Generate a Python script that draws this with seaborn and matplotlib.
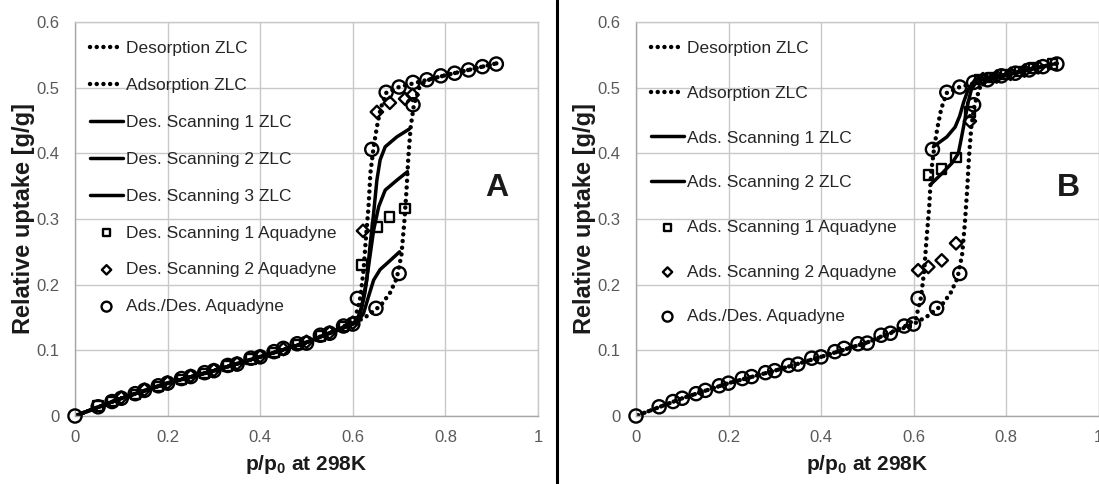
import numpy as np
import pandas as pd
import matplotlib
matplotlib.use("Agg")
import matplotlib.pyplot as plt
import seaborn as sns
from matplotlib.lines import Line2D
from matplotlib.ticker import FuncFormatter, MultipleLocator

sns.set_style("white")
plt.rcParams['font.family'] = ['Liberation Sans', 'DejaVu Sans']

# ---------------- data ----------------
# shared lower branch (p/p0, uptake)
low_x = [0, 0.05, 0.08, 0.10, 0.13, 0.15, 0.18, 0.20, 0.23, 0.25, 0.28, 0.30,
         0.33, 0.35, 0.38, 0.40, 0.43, 0.45, 0.48, 0.50, 0.53, 0.55, 0.58, 0.60]
low_y = [0, 0.014, 0.022, 0.027, 0.034, 0.039, 0.046, 0.050, 0.057, 0.060, 0.066, 0.069,
         0.077, 0.079, 0.088, 0.090, 0.098, 0.103, 0.110, 0.111, 0.123, 0.126, 0.137, 0.140]

# Ads./Des. Aquadyne circles (upper part)
aq_x = [0.61, 0.65, 0.70, 0.73, 0.76, 0.79, 0.82, 0.85, 0.88, 0.91, 0.73, 0.70, 0.672, 0.641]
aq_y = [0.179, 0.164, 0.217, 0.474, 0.512, 0.518, 0.522, 0.527, 0.532, 0.536, 0.508, 0.501, 0.493, 0.406]

# ZLC isotherm branches
ads_zlc_x = [0, 0.1, 0.2, 0.3, 0.4, 0.5, 0.6, 0.63, 0.66, 0.68, 0.695, 0.705, 0.711, 0.716,
             0.72, 0.725, 0.732, 0.745, 0.76, 0.80, 0.85, 0.91]
ads_zlc_y = [0, 0.027, 0.050, 0.069, 0.090, 0.112, 0.140, 0.152, 0.168, 0.187, 0.21, 0.245, 0.293,
             0.344, 0.395, 0.44, 0.474, 0.503, 0.511, 0.519, 0.527, 0.537]
des_zlc_x = [0.91, 0.85, 0.80, 0.75, 0.70, 0.672, 0.66, 0.652, 0.645, 0.638, 0.634, 0.628,
             0.623, 0.616, 0.605, 0.58, 0.5, 0.4, 0.3, 0.2, 0.1, 0]
des_zlc_y = [0.537, 0.527, 0.519, 0.510, 0.501, 0.492, 0.468, 0.44, 0.41, 0.37, 0.319, 0.268,
             0.22, 0.18, 0.148, 0.136, 0.112, 0.090, 0.069, 0.050, 0.027, 0]

# Panel A: desorption scanning ZLC
a_s1_x = [0.722, 0.695, 0.670, 0.659, 0.652, 0.645, 0.637, 0.630, 0.619, 0.610, 0.60, 0.5, 0.4, 0.3, 0.2, 0.1, 0]
a_s1_y = [0.437, 0.425, 0.41, 0.39, 0.359, 0.309, 0.258, 0.207, 0.166, 0.148, 0.140, 0.112, 0.090, 0.069, 0.050, 0.027, 0]
a_s2_x = [0.718, 0.695, 0.670, 0.656, 0.645, 0.637, 0.626, 0.616, 0.605, 0.5, 0.4, 0.3, 0.2, 0.1, 0]
a_s2_y = [0.372, 0.359, 0.344, 0.319, 0.283, 0.243, 0.187, 0.156, 0.143, 0.112, 0.090, 0.069, 0.050, 0.027, 0]
a_s3_x = [0.701, 0.681, 0.659, 0.645, 0.634, 0.623, 0.61, 0.5, 0.4, 0.3, 0.2, 0.1, 0]
a_s3_y = [0.250, 0.237, 0.223, 0.207, 0.182, 0.156, 0.143, 0.112, 0.090, 0.069, 0.050, 0.027, 0]

# Panel A: Aquadyne desorption scanning
a_sq_x = [0.713, 0.680, 0.652, 0.620, 0.58, 0.53, 0.48, 0.43, 0.38, 0.33, 0.28, 0.23, 0.18, 0.13, 0.08, 0.05]
a_sq_y = [0.316, 0.303, 0.288, 0.230, 0.136, 0.122, 0.109, 0.097, 0.087, 0.076, 0.065, 0.056, 0.045, 0.033, 0.022, 0.015]
a_di_x = [0.729, 0.713, 0.680, 0.652, 0.622, 0.60, 0.55, 0.50, 0.45, 0.40, 0.35, 0.30, 0.25, 0.20, 0.15, 0.10]
a_di_y = [0.489, 0.483, 0.477, 0.463, 0.282, 0.142, 0.127, 0.113, 0.102, 0.091, 0.080, 0.070, 0.061, 0.051, 0.040, 0.028]

# Panel B: adsorption scanning ZLC
b_s1_x = [0.643, 0.672, 0.690, 0.700, 0.708, 0.718, 0.733, 0.76, 0.80, 0.85, 0.90]
b_s1_y = [0.410, 0.425, 0.440, 0.457, 0.477, 0.497, 0.512, 0.516, 0.520, 0.528, 0.536]
b_s2_x = [0.639, 0.661, 0.683, 0.697, 0.704, 0.711, 0.718, 0.725, 0.736, 0.76, 0.80, 0.85, 0.90]
b_s2_y = [0.354, 0.369, 0.385, 0.400, 0.425, 0.451, 0.477, 0.497, 0.509, 0.515, 0.520, 0.527, 0.535]

# Panel B: Aquadyne adsorption scanning
b_sq_x = [0.632, 0.661, 0.692, 0.722, 0.744, 0.77, 0.80, 0.83, 0.86, 0.90]
b_sq_y = [0.367, 0.376, 0.394, 0.463, 0.512, 0.516, 0.520, 0.525, 0.530, 0.536]
b_di_x = [0.610, 0.632, 0.661, 0.692, 0.722, 0.75, 0.78, 0.81, 0.84, 0.87]
b_di_y = [0.222, 0.227, 0.237, 0.263, 0.449, 0.513, 0.517, 0.521, 0.526, 0.531]

labels_a = ["Desorption ZLC", "Adsorption ZLC", "Des. Scanning 1 ZLC", "Des. Scanning 2 ZLC",
            "Des. Scanning 3 ZLC", "Des. Scanning 1 Aquadyne", "Des. Scanning 2 Aquadyne",
            "Ads./Des. Aquadyne"]
labels_b = ["Desorption ZLC", "Adsorption ZLC", "Ads. Scanning 1 ZLC", "Ads. Scanning 2 ZLC",
            "Ads. Scanning 1 Aquadyne", "Ads. Scanning 2 Aquadyne", "Ads./Des. Aquadyne"]

# ---------------- figure ----------------
fig = plt.figure(figsize=(10.99, 4.84), dpi=100)
axA = fig.add_axes([75/1099, 68/484, 463/1099, 394/484])
axB = fig.add_axes([636/1099, 68/484, 462.5/1099, 394/484])

DOT = dict(color='black', lw=3.2, linestyle=(0, (0.01, 1.5)), dash_capstyle='round')
SOLID = dict(color='black', lw=2.5)
GRID = '#c8c8c8'
TXT = '#595959'


def line(ax, x, y, label, style):
    sns.lineplot(x=x, y=y, ax=ax, sort=False, estimator=None, label=label, **style)


def pts(ax, x, y, label, marker, s):
    sns.scatterplot(x=x, y=y, ax=ax, marker=marker, s=s, facecolor='none',
                    edgecolor='black', linewidth=1.7, label=label, zorder=3, clip_on=False)


def setup(ax):
    ax.set_xlim(0, 1)
    ax.set_ylim(0, 0.6)
    ax.xaxis.set_major_locator(MultipleLocator(0.2))
    ax.yaxis.set_major_locator(MultipleLocator(0.1))
    fmt = FuncFormatter(lambda v, p: f"{round(v, 2):g}")
    ax.xaxis.set_major_formatter(fmt)
    ax.yaxis.set_major_formatter(fmt)
    ax.grid(True, color=GRID, lw=1.0)
    ax.set_axisbelow(True)
    for s in ax.spines.values():
        s.set_color(GRID)
        s.set_linewidth(1.0)
    ax.spines['left'].set_color('#a6a6a6')
    ax.spines['bottom'].set_color('#a6a6a6')
    ax.tick_params(length=0, labelsize=12, colors=TXT)
    ax.tick_params(axis='x', pad=10)
    ax.tick_params(axis='y', pad=11)
    ax.set_xlabel("p/p$_\\mathregular{0}$ at 298K", fontsize=15, fontweight='bold',
                  color='#1a1a1a', labelpad=6)
    ax.set_ylabel("Relative uptake [g/g]", fontsize=17, fontweight='bold',
                  color='#1a1a1a', labelpad=1.5)


# Panel A
line(axA, des_zlc_x, des_zlc_y, labels_a[0], DOT)
line(axA, ads_zlc_x, ads_zlc_y, labels_a[1], DOT)
line(axA, a_s1_x, a_s1_y, labels_a[2], SOLID)
line(axA, a_s2_x, a_s2_y, labels_a[3], SOLID)
line(axA, a_s3_x, a_s3_y, labels_a[4], SOLID)
pts(axA, a_sq_x, a_sq_y, labels_a[5], 's', 45)
pts(axA, a_di_x, a_di_y, labels_a[6], 'D', 40)
pts(axA, low_x + aq_x, low_y + aq_y, labels_a[7], 'o', 90)

# Panel B
line(axB, des_zlc_x, des_zlc_y, labels_b[0], DOT)
line(axB, ads_zlc_x, ads_zlc_y, labels_b[1], DOT)
line(axB, b_s1_x, b_s1_y, labels_b[2], SOLID)
line(axB, b_s2_x, b_s2_y, labels_b[3], SOLID)
pts(axB, b_sq_x, b_sq_y, labels_b[4], 's', 45)
pts(axB, b_di_x, b_di_y, labels_b[5], 'D', 40)
pts(axB, low_x + aq_x, low_y + aq_y, labels_b[6], 'o', 90)

for ax, spacing in ((axA, 1.25), (axB, 1.70)):
    setup(ax)
    leg = ax.legend(loc='upper left', bbox_to_anchor=(0.01, 0.978), frameon=False,
                    fontsize=12.5, labelspacing=spacing, handlelength=1.9,
                    handletextpad=0.15, borderaxespad=0.2, markerscale=0.75)
    for t in leg.get_texts():
        t.set_color('#262626')

axA.text(0.91, 0.347, "A", transform=axA.transData, fontsize=23, fontweight='bold',
         ha='center', va='center', color='#1a1a1a')
axB.text(0.934, 0.347, "B", transform=axB.transData, fontsize=23, fontweight='bold',
         ha='center', va='center', color='#1a1a1a')

# divider between panels
fig.add_artist(Line2D([557/1099, 557/1099], [0, 1], transform=fig.transFigure,
                      color='black', lw=2.2))

fig.savefig("out.png", dpi=100, facecolor='white')
